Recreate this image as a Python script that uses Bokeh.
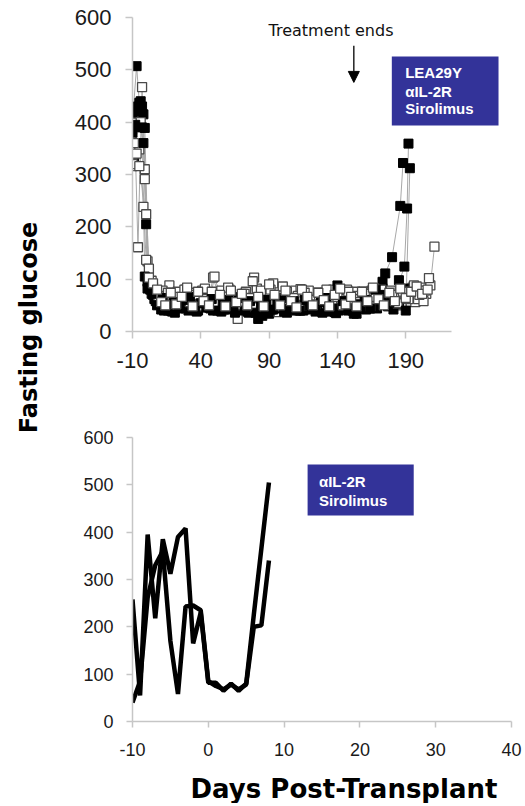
from math import pi
from bokeh.plotting import figure
from bokeh.layouts import row, column
from bokeh.models import Range1d, FixedTicker, Label, Arrow, NormalHead
from bokeh.embed import file_html
from bokeh.resources import INLINE
from bokeh.core.properties import value

# ---------------- data: top panel (LEA29Y + aIL-2R + Sirolimus) ----------------
B1_DAYS = [-10, -7, -5, -3, -1, 2, 6, 10, 14, 18,
           22, 26, 30, 34, 38, 42, 46, 50, 54, 58,
           62, 66, 70, 74, 78, 82, 86, 90, 94, 98,
           102, 106, 110, 114, 118, 122, 126, 130, 134, 138,
           142, 146, 150, 154, 158, 162, 166, 170, 175, 180,
           186, 188]
B1_VALS = [402, 507, 437, 430, 389,
           85, 62, 58, 44, 40, 56, 45, 62, 55, 40,
           58, 46, 66, 60, 42, 50, 62, 55, 38, 58,
           24, 45, 34, 60, 48, 42, 58, 40, 62, 45,
           52, 60, 40, 56, 37, 45, 60, 50, 34, 52,
           60, 66, 60,
           111, 142, 240, 322]

B2_DAYS = [-9, -6, -4, -2, 0, 3, 7, 11, 15, 19,
           23, 27, 31, 35, 39, 43, 47, 51, 55, 59,
           63, 67, 71, 75, 79, 83, 87, 91, 95, 99,
           103, 107, 111, 115, 119, 123, 127, 131, 135, 139,
           143, 147, 151, 155, 159, 163, 167, 173, 182, 189,
           191, 192]
B2_VALS = [330, 420, 440, 415, 205,
           80, 58, 42, 60, 38, 54, 62, 40, 56, 48,
           70, 44, 52, 38, 60, 66, 42, 56, 36, 46,
           58, 40, 62, 44, 54, 36, 58, 48, 40, 56,
           62, 42, 54, 38, 35, 58, 46, 40, 56, 62,
           44, 60,
           95, 70, 124, 235, 359]

B3_DAYS = [-8, -5, -3, -1, 1, 4, 8, 12, 16, 20,
           24, 28, 32, 36, 40, 44, 48, 52, 56, 60,
           64, 68, 72, 76, 80, 84, 88, 92, 96, 100,
           104, 108, 112, 116, 120, 124, 128, 132, 136, 140,
           144, 148, 152, 156, 160, 164, 168, 172, 178, 185,
           190, 193]
B3_VALS = [395, 425, 390, 105,
           82, 72, 50, 64, 40, 56, 44, 60, 66, 42,
           54, 46, 62, 40, 56, 60, 44, 64, 40, 58,
           36, 52, 60, 42, 56, 64, 44, 58, 40, 60,
           50, 38, 56, 64, 44, 88, 58, 40, 34, 52,
           60, 44, 80,
           70, 55, 98, 40, 312]

B4_DAYS = [-10, -6, -2, 1, 5, 9, 13, 17, 21, 25,
           29, 33, 37, 41, 45, 49, 53, 57, 61, 65,
           69, 73, 77, 81, 85, 89, 93, 97, 101, 105,
           109, 113, 117, 121, 125, 129, 133, 137, 141, 145,
           149, 153, 157, 161, 165, 169, 173, 177, 181, 185,
           189]
B4_VALS = [380, 430, 360, 95,
           70, 52, 40, 48, 36, 58, 44, 50, 38, 54,
           46, 40, 60, 42, 50, 36, 56, 44, 40, 52,
           30, 48, 42, 56, 38, 50, 44, 40, 58, 42,
           48, 36, 54, 44, 40, 52, 46, 38, 56, 42,
           50, 44, 60, 48, 42, 52, 82]

O1_DAYS = [-10, -8, -6, -3, -1, 1, 4, 7, 10, 13,
           17, 21, 25, 29, 33, 37, 41, 45, 49, 53,
           57, 61, 65, 69, 73, 77, 81, 85, 89, 93,
           97, 101, 105, 109, 113, 117, 121, 125, 129, 133,
           137, 141, 145, 149, 153, 157, 161, 165, 169, 173,
           177, 181, 185, 189, 193, 197, 201, 205, 208, 211]
O1_VALS = [316, 354, 161, 467, 291,
           134, 97, 78, 52, 75, 88, 60, 50, 80, 43,
           66, 78, 52, 103, 70, 50, 80, 62, 48, 76,
           58, 82, 50, 68, 92, 37, 72, 52, 78, 81,
           56, 48, 74, 66, 52, 80, 58, 70, 50, 76,
           64, 50, 78, 56, 82, 68, 52, 66, 80, 70,
           56, 84, 72, 88, 162]

O2_DAYS = [-10, -9, -5, -2, 0, 3, 6, 9, 12, 15,
           19, 23, 27, 31, 35, 39, 43, 47, 51, 55,
           59, 63, 67, 71, 75, 79, 83, 87, 91, 95,
           99, 103, 107, 111, 115, 119, 123, 127, 131, 135,
           139, 143, 147, 151, 155, 159, 163, 167, 171, 175,
           179, 183, 187, 191, 195, 199, 203, 207]
O2_VALS = [339, 399, 348, 238, 137,
           90, 72, 52, 78, 60, 48, 76, 56, 50, 74,
           54, 82, 58, 48, 78, 64, 52, 24, 72, 56,
           103, 50, 70, 80, 48, 62, 76, 52, 68, 50,
           78, 58, 50, 74, 64, 48, 62, 80, 52, 68,
           76, 50, 82, 60, 54, 78, 64, 50, 72, 84,
           62, 58, 102]

O3_DAYS = [-10, -7, -5, 0, 2, 5, 8, 11, 14, 18,
           22, 26, 30, 34, 38, 42, 46, 50, 54, 58,
           62, 66, 70, 74, 78, 82, 86, 90, 94, 98,
           102, 106, 110, 114, 118, 122, 126, 130, 134, 138,
           142, 146, 150, 154, 158, 162, 166, 170, 174, 178,
           182, 186, 190, 194, 198, 202, 206]
O3_VALS = [320, 340, 316,
           224, 103, 92, 80, 56, 50, 74, 52, 66, 84,
           48, 76, 58, 50, 105, 70, 48, 78, 56, 72,
           50, 96, 66, 48, 90, 70, 50, 78, 58, 46,
           80, 66, 50, 74, 60, 48, 70, 82, 52, 66,
           48, 76, 58, 84, 62, 50, 74, 58, 82, 64,
           76, 86, 72, 80]

O4_DAYS = [-9, -4, -1, 2, 5, 9, 12, 16, 20, 24,
           28, 32, 36, 40, 44, 48, 52, 56, 60, 64,
           68, 72, 76, 80, 84, 88, 92, 96, 100, 104,
           108, 112, 116, 120, 124, 128, 132, 136, 140, 144,
           148, 152, 156, 160, 164, 168, 172, 176, 180, 184,
           188, 192, 196, 200, 204]
O4_VALS = [360, 400, 310, 120, 85, 68,
           60, 74, 52, 66, 80, 56, 70, 48, 62, 76,
           54, 68, 84, 58, 50, 72, 64, 46, 78, 60,
           52, 70, 86, 56, 64, 48, 74, 60, 52, 70,
           80, 54, 66, 50, 76, 62, 56, 72, 48, 66,
           80, 58, 70, 54, 76, 62, 88, 70, 78]

TOP_X_TICKS = [-10, 40, 90, 140, 190]
Y_TICKS = [0, 100, 200, 300, 400, 500, 600]
TOP_LEGEND = ["LEA29Y", "\u03b1IL-2R", "Sirolimus"]

# ---------------- data: bottom panel (aIL-2R + Sirolimus) ----------------
BOT_DAYS = [-10, -9, -8, -7, -6, -5, -4, -3, -2, -1, 0, 1, 2, 3, 4, 5, 6, 7, 8]
BOT_A = [258, 55, 395, 218, 385, 312, 390, 408, 165, 230, 82, 82, 65, 80, 65, 80, 225, 365, 505]
BOT_B = [40, 85, 262, 330, 360, 170, 58, 243, 245, 235, 85, 75, 68, 78, 68, 78, 200, 203, 340]
BOT_X_TICKS = [-10, 0, 10, 20, 30, 40]
BOT_LEGEND = ["\u03b1IL-2R", "Sirolimus"]

TICK_FONT = "Liberation Sans"
AXIS_GREY = "#c6c6c6"
BOX_BLUE = "#333399"


def style(p, size, tick_out, sx, sy):
    p.xgrid.visible = False
    p.ygrid.visible = False
    p.outline_line_color = None
    for ax in p.axis:
        ax.axis_line_color = AXIS_GREY
        ax.axis_line_width = 1.5
        ax.major_tick_line_color = AXIS_GREY
        ax.major_tick_line_width = 1.5
        ax.major_tick_out = tick_out
        ax.major_tick_in = 0
        ax.minor_tick_line_color = None
        ax.major_label_text_font = TICK_FONT
        ax.major_label_text_font_size = size
        ax.major_label_text_color = "#1a1a1a"
    p.xaxis.major_label_standoff = sx
    p.yaxis.major_label_standoff = sy
    p.xaxis.major_label_overrides = {-10: "-10"}


def blank(width, height):
    f = figure(width=width, height=height, x_range=Range1d(0, width), y_range=Range1d(0, height),
               output_backend="svg", toolbar_location=None, title=None,
               x_axis_location=None, y_axis_location=None,
               min_border_left=0, min_border_right=0, min_border_top=0, min_border_bottom=0)
    f.xgrid.visible = False
    f.ygrid.visible = False
    f.outline_line_color = None
    return f


# ---------------- left strip with the shared y title ----------------
side = blank(58, 803)
side.add_layout(Label(x=28, y=476, text="Fasting glucose", angle=pi / 2,
                      text_font="DejaVu Sans", text_font_style="bold", text_font_size="24px",
                      text_align="center", text_baseline="middle", text_color="#000000"))

# ---------------- top panel ----------------
top = figure(width=466, height=383, x_range=Range1d(-10, 267.4), y_range=Range1d(0, 600),
             output_backend="svg", toolbar_location=None, title=None,
             min_border_left=74, min_border_right=12, min_border_top=17, min_border_bottom=52)
style(top, "22px", 7, 14, 14)
top.xaxis.ticker = FixedTicker(ticks=TOP_X_TICKS)
top.xaxis.bounds = (-10, 223.6)
top.yaxis.ticker = FixedTicker(ticks=Y_TICKS)

series = [(B1_DAYS, B1_VALS, True), (O1_DAYS, O1_VALS, False),
          (B2_DAYS, B2_VALS, True), (O2_DAYS, O2_VALS, False),
          (B4_DAYS, B4_VALS, True), (O4_DAYS, O4_VALS, False),
          (B3_DAYS, B3_VALS, True), (O3_DAYS, O3_VALS, False)]
for d, v, filled in series:
    top.line(d, v, line_color="#a8a8a8", line_width=1)
for d, v, filled in series:
    if filled:
        top.scatter(d, v, marker="square", size=9, fill_color="#000000",
                    line_color="#000000", line_width=1)
    else:
        top.scatter(d, v, marker="square", size=9, fill_color="#ffffff",
                    line_color="#4a4a4a", line_width=1.3)

top.quad(left=179.8, right=257.9, bottom=393.6, top=525.5,
         fill_color=BOX_BLUE, line_color=None)
top.text(x=[189.6, 189.6, 189.6], y=[495, 458.6, 427], text=TOP_LEGEND,
         text_font=value("Liberation Sans"), text_font_style="bold",
         text_font_size="15px", text_color="#ffffff",
         text_align="left", text_baseline="middle")

top.add_layout(Label(x=135.3, y=575, text="Treatment ends", text_font="DejaVu Sans",
                     text_font_size="16px", text_align="center", text_baseline="middle",
                     text_color="#111111"))
top.add_layout(Arrow(end=NormalHead(size=11, fill_color="#000000", line_color="#000000"),
                     x_start=152, y_start=546, x_end=152, y_end=476,
                     line_width=1.3, line_color="#000000"))

# ---------------- bottom panel ----------------
bot = figure(width=466, height=387, x_range=Range1d(-10, 40), y_range=Range1d(0, 600),
             output_backend="svg", toolbar_location=None, title=None,
             min_border_left=70, min_border_right=13, min_border_top=54, min_border_bottom=49)
style(bot, "18px", 6, 15, 13)
bot.xaxis.ticker = FixedTicker(ticks=BOT_X_TICKS)
bot.yaxis.ticker = FixedTicker(ticks=Y_TICKS)

bot.line(BOT_DAYS, BOT_A, line_color="#000000", line_width=4.5)
bot.line(BOT_DAYS, BOT_B, line_color="#000000", line_width=4.5)

bot.quad(left=13.1, right=27.1, bottom=435, top=543, fill_color=BOX_BLUE, line_color=None)
bot.text(x=[14.6, 14.6], y=[508, 466], text=BOT_LEGEND,
         text_font=value("Liberation Sans"), text_font_style="bold",
         text_font_size="15px", text_color="#ffffff",
         text_align="left", text_baseline="middle")

# ---------------- strip with the shared x title ----------------
foot = blank(466, 33)
foot.add_layout(Label(x=260, y=15, text="Days Post-Transplant", text_font="DejaVu Sans",
                      text_font_style="bold", text_font_size="26px",
                      text_align="center", text_baseline="middle", text_color="#000000"))

layout = row(side, column(top, bot, foot))
open("out.html", "w").write(file_html(layout, INLINE))
